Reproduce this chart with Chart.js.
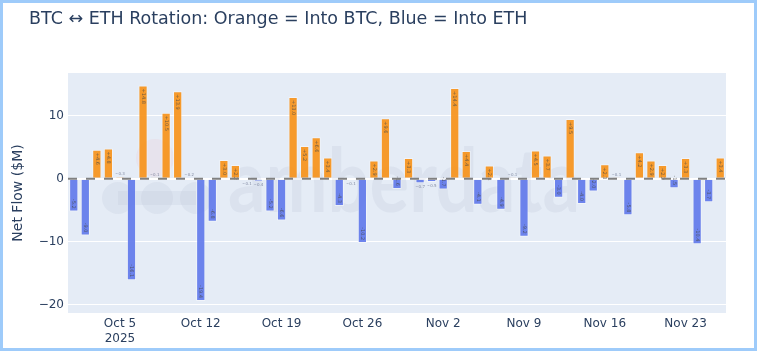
<!DOCTYPE html>
<html>
<head>
<meta charset="utf-8">
<script src="https://cdn.jsdelivr.net/npm/chart.js@4/dist/chart.umd.min.js"></script>
<style>
  html, body { margin: 0; padding: 0; background: #fff; }
  #wrap { position: relative; width: 757px; height: 351px; }
  canvas { display: block; }
</style>
</head>
<body>
<div id="wrap"><canvas id="myChart" width="757" height="351"></canvas></div>
<script>
// daily net flow, Oct 1 .. Nov 26 2025 ($M), + = into BTC, - = into ETH
const startDay = "2025-10-01";
const netFlow = [
  -5.2, -9.0, 4.6, 4.8, 0.3, -16.1, 14.8, 0.1, 10.5, 13.9, 0.2, -19.4, -6.8, 3.0,
  2.2, -0.1, -0.4, -5.2, -6.6, 13.0, 5.2, 6.6, 3.4, -4.3, -0.1, -10.2, 2.9, 9.6,
  -1.6, 3.3, -0.7, -0.5, -1.7, 14.4, 4.4, -4.1, 2.1, -4.9, 0.1, -9.2, 4.5, 3.7,
  -3.0, 9.5, -4.0, -2.0, 2.3, 0.1, -5.8, 4.2, 2.9, 2.2, -1.5, 3.3, -10.4, -3.7, 3.4
];
const tickDays = ["Oct 5", "Oct 12", "Oct 19", "Oct 26", "Nov 2", "Nov 9", "Nov 16", "Nov 23"];
const yTicks = [-20, -10, 0, 10];

const monthNames = ["Jan","Feb","Mar","Apr","May","Jun","Jul","Aug","Sep","Oct","Nov","Dec"];
const days = [];
let d = new Date(startDay + "T00:00:00");
for (let i = 0; i < netFlow.length; i++) {
  days.push(monthNames[d.getMonth()] + " " + d.getDate());
  d.setDate(d.getDate() + 1);
}

const ORANGE = "rgba(247,147,26,0.92)";
const BLUE = "rgba(98,121,234,0.92)";
const FONT = "'DejaVu Sans', Verdana, sans-serif";
const TXT = "#2a3f5f";

const decor = {
  id: "decor",
  beforeDraw(chart) {
    const { ctx, chartArea: a } = chart;
    ctx.save();
    ctx.fillStyle = "#E5ECF6";
    ctx.fillRect(a.left, a.top, a.right - a.left, a.bottom - a.top);
    ctx.restore();
  },
  beforeDatasetsDraw(chart) {
    // amberdata watermark
    const { ctx, chartArea: a } = chart;
    ctx.save();
    ctx.beginPath();
    ctx.rect(a.left, a.top, a.right - a.left, a.bottom - a.top);
    ctx.clip();
    ctx.fillStyle = "rgba(236,205,215,0.3)";
    ctx.beginPath(); ctx.arc(155, 158, 19, 0, Math.PI * 2); ctx.fill();
    ctx.fillStyle = "rgba(185,195,215,0.22)";
    [118, 157, 196].forEach(cx => { ctx.beginPath(); ctx.arc(cx, 198, 16, 0, Math.PI * 2); ctx.fill(); });
    ctx.fillRect(118, 191, 78, 14);
    ctx.font = "bold 88px Lato, 'Open Sans', sans-serif";
    const w = ctx.measureText("amberdata").width;
    ctx.translate(228, 212);
    ctx.scale(352 / w, 1);
    ctx.fillStyle = "rgba(180,190,210,0.2)";
    ctx.fillText("amberdata", 0, 0);
    ctx.restore();
  },
  afterDatasetsDraw(chart) {
    const { ctx, chartArea: a } = chart;
    const y0 = chart.scales.y.getPixelForValue(0);
    const meta = chart.getDatasetMeta(0);
    ctx.save();
    // small value labels on the bars
    meta.data.forEach((bar, i) => {
      const v = netFlow[i];
      const txt = (v > 0 ? "+" : "") + v.toFixed(1);
      if (Math.abs(v) >= 1) {
        ctx.save();
        ctx.translate(bar.x, v > 0 ? bar.y + 3 : bar.y - 3);
        ctx.rotate(Math.PI / 2);
        ctx.font = "5px " + FONT;
        ctx.fillStyle = "rgba(70,70,70,0.75)";
        ctx.textBaseline = "middle";
        ctx.textAlign = v > 0 ? "left" : "right";
        ctx.fillText(txt, 0, 0);
        ctx.restore();
      } else {
        ctx.font = "4px " + FONT;
        ctx.fillStyle = "rgba(90,100,130,0.7)";
        ctx.textAlign = "center";
        ctx.textBaseline = "middle";
        ctx.fillText("~" + Math.abs(v).toFixed(1), bar.x, v > 0 ? bar.y - 3 : bar.y + 4);
      }
    });
    // dashed zero line
    ctx.strokeStyle = "#808080";
    ctx.lineWidth = 2;
    ctx.setLineDash([9, 9]);
    ctx.beginPath();
    ctx.moveTo(a.left, y0);
    ctx.lineTo(a.right, y0);
    ctx.stroke();
    ctx.restore();
  },
  afterDraw(chart) {
    const { ctx } = chart;
    ctx.save();
    ctx.fillStyle = TXT;
    ctx.font = "17.5px " + FONT;
    ctx.textBaseline = "middle";
    ctx.fillText("BTC \u2194 ETH Rotation: Orange = Into BTC, Blue = Into ETH", 29, 19);
    ctx.translate(18, 193);
    ctx.rotate(-Math.PI / 2);
    ctx.textAlign = "center";
    ctx.font = "14px " + FONT;
    ctx.fillText("Net Flow ($M)", 0, 0);
    ctx.restore();
    ctx.save();
    ctx.strokeStyle = "#9ecbfa";
    ctx.lineWidth = 3;
    ctx.strokeRect(1.5, 1.5, 754, 348);
    ctx.restore();
  }
};

new Chart(document.querySelector("#myChart"), {
  type: "bar",
  data: {
    labels: days,
    datasets: [{
      data: netFlow,
      backgroundColor: netFlow.map(v => v >= 0 ? ORANGE : BLUE),
      borderColor: "rgba(255,255,255,0.45)",
      borderWidth: 1,
      barPercentage: 0.8,
      categoryPercentage: 1
    }]
  },
  options: {
    responsive: false,
    animation: false,
    layout: { padding: { top: 73, right: 31, left: 0, bottom: 0 } },
    plugins: { legend: { display: false }, tooltip: { enabled: false } },
    scales: {
      x: {
        grid: { display: false, drawTicks: false },
        border: { display: false },
        afterFit(scale) { scale.height = 38; },
        ticks: {
          autoSkip: false,
          maxRotation: 0,
          padding: 3,
          color: TXT,
          font: { family: FONT, size: 12, lineHeight: 1.25 },
          callback(value, index) {
            const lab = days[index];
            if (!tickDays.includes(lab)) return "";
            return lab === tickDays[0] ? [lab, "2025"] : lab;
          }
        }
      },
      y: {
        min: -21.3,
        max: 16.8,
        afterFit(scale) { scale.width = 68; },
        afterBuildTicks(scale) { scale.ticks = yTicks.map(v => ({ value: v })); },
        border: { display: false },
        grid: {
          color: "#ffffff",
          lineWidth: c => (c.tick && c.tick.value === 0 ? 2 : 1),
          drawTicks: false
        },
        ticks: {
          padding: 4,
          color: TXT,
          font: { family: FONT, size: 12 },
          callback: v => (v < 0 ? "\u2212" + Math.abs(v) : String(v))
        }
      }
    }
  },
  plugins: [decor]
});
</script>
</body>
</html>
